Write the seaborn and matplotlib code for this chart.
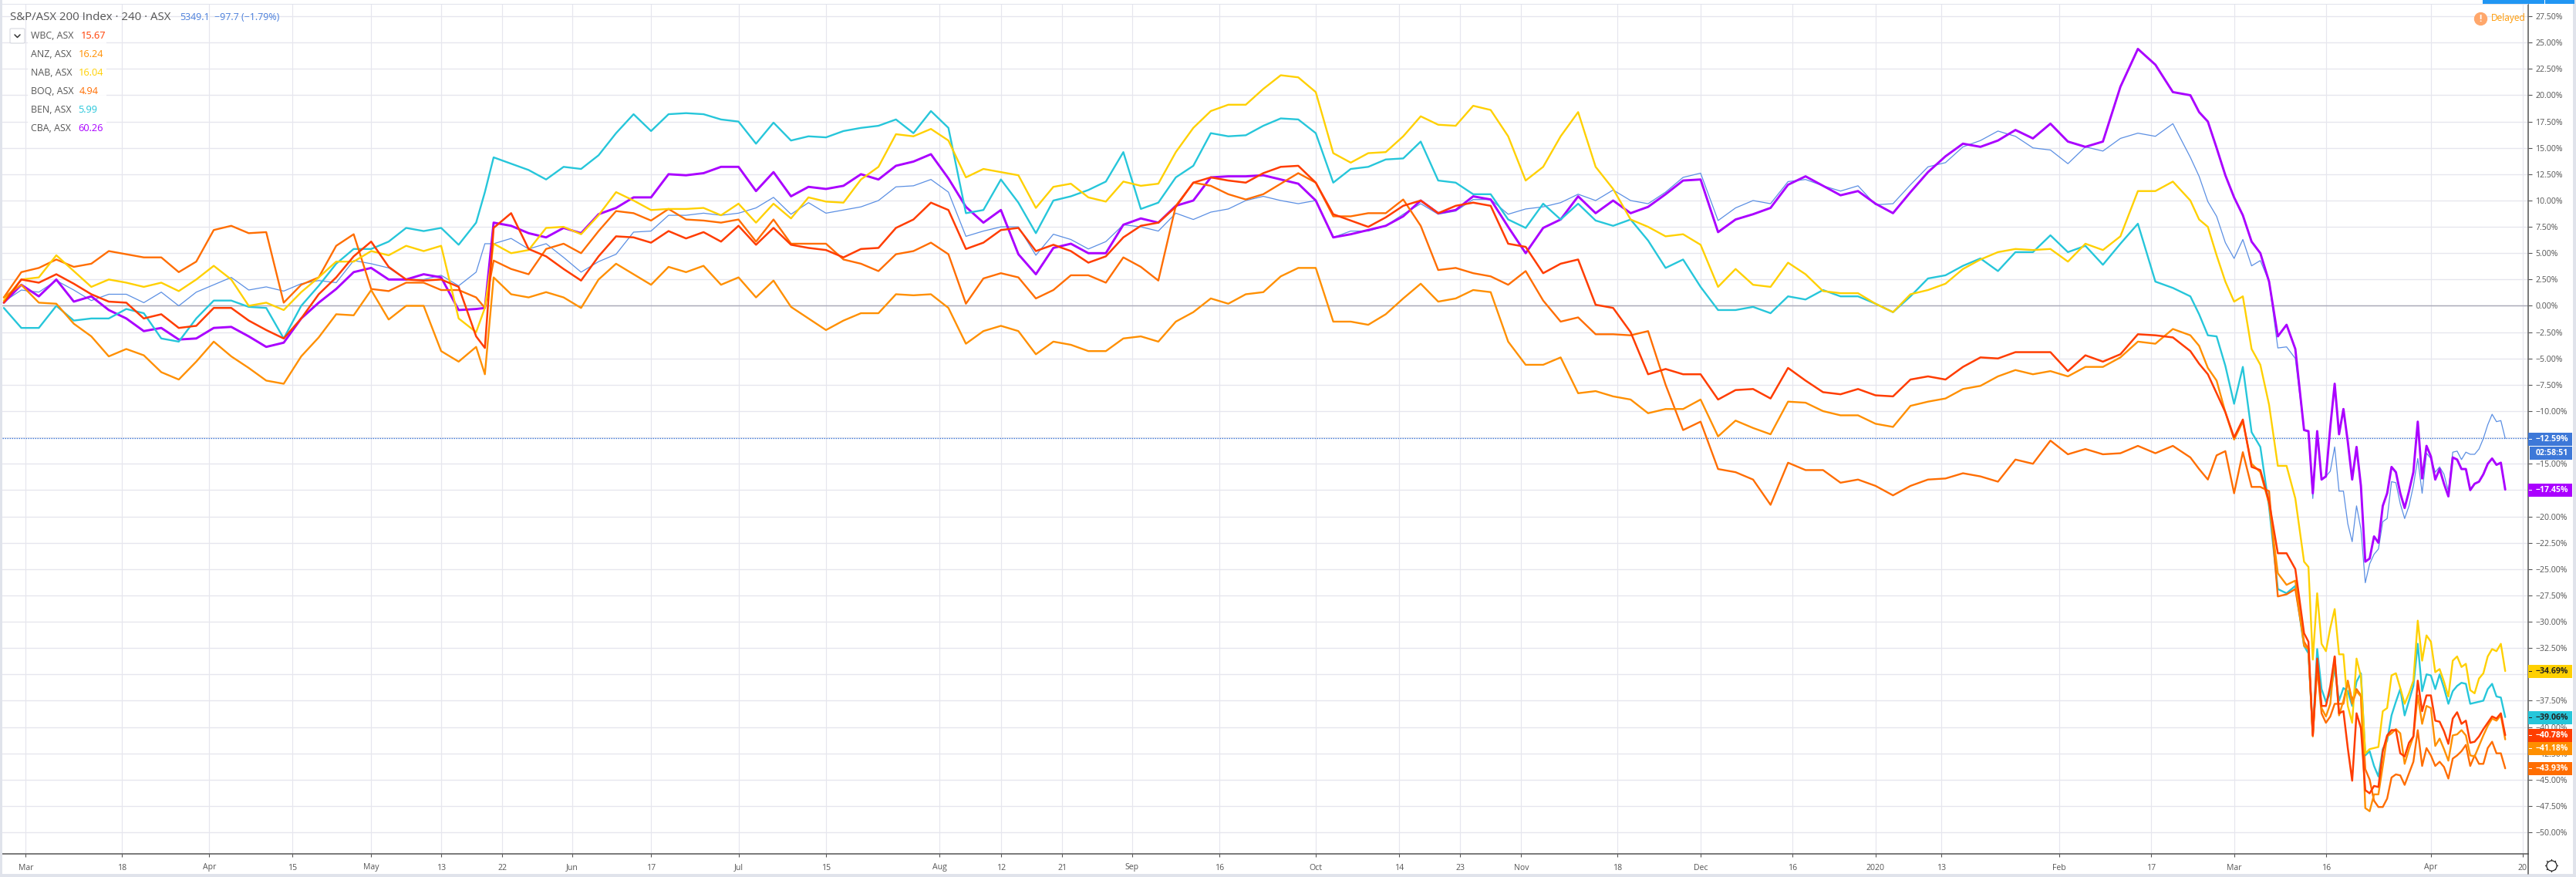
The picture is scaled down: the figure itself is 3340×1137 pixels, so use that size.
# -*- coding: utf-8 -*-
import numpy as np
import pandas as pd
import matplotlib.pyplot as plt
from matplotlib.patches import Rectangle, FancyBboxPatch
from matplotlib.lines import Line2D
import seaborn as sns

W, H = 3340, 1137

# --- DATA (percent change) ---
bars = list(range(0, 109, 4)) + [110] + list(range(112, 501, 4)) + list(range(502, 525, 2)) + list(range(526, 573))

wbc = [0.3,2.5,2.2,3.0,2.1,1.1,0.4,0.3,-1.2,-0.8,-2.1,-1.9,-0.2,-0.2,-1.4,-2.3,-3.1,-1.2,1.1,2.7,4.7,6.1,3.7,2.5,2.4,2.5,1.8,-2.9,-4.0,7.4,8.8,5.4,4.7,3.5,2.4,4.7,6.6,
       6.5,6,7.1,6.4,7,6.1,7.6,5.8,7.4,5.8,5.5,5.3,4.6,5.4,5.5,7.4,8.2,9.8,9.1,5.4,6,7.2,7.4,5.2,5.8,5.2,4.1,4.7,6.5,7.6,7.9,
       9.4,11.7,12.2,11.9,11.7,12.6,13.2,13.3,11.7,8.7,8.1,7.5,8.4,9.5,10,8.8,9.5,9.8,9.5,5.9,5.6,3.1,4,4.4,0.1,-0.2,-2.5,-6.5,-6,-6.5,-6.5,
       -8.9,-8,-7.9,-8.8,-5.9,-7.1,-8.2,-8.4,-7.9,-8.5,-8.6,-7,-6.7,-7,-5.8,-4.9,-5,-4.4,-4.4,-4.4,-6.2,-4.7,-5.3,-4.6,-2.7,-2.8,-3,-4.3,
       -5.5,-6.5,-8.3,-10.1,-12.5,-10.8,-15.3,-15.6,-18.6,-23.5,-23.5,-25,
       -31.1,-31.9,-40.8,-33.5,-38,-38,-36.1,-33.3,-38.7,-38.5,-42,-45.1,-38.7,-40.1,-46,-46.3,-45.6,-45.7,-42.3,-40.8,-40.3,-40.3,-42.5,-42.8,-41.5,-40.9,-35.6,-38.5,-37,-37,-39.4,-39.5,-40.4,-41.6,-39.2,-38.6,-39.7,-39.4,-41.5,-41.4,-40.9,-40.2,-39.6,-39,-39.2,-38.7,-40.78]

anz = [0.8,2.0,0.3,0.2,-1.7,-2.9,-4.8,-4.1,-4.7,-6.3,-7.0,-5.3,-3.4,-4.8,-5.9,-7.1,-7.4,-4.8,-3.0,-0.8,-0.9,1.5,-1.3,0,0,-4.3,-5.3,-3.9,-6.5,2.7,1.1,0.8,1.3,0.8,-0.2,2.5,4.0,
       3,2,3.7,3.2,3.8,2,2.7,0.8,2.4,-0.1,-1.2,-2.3,-1.4,-0.7,-0.7,1.1,1,1.1,-0.2,-3.6,-2.4,-1.9,-2.4,-4.6,-3.4,-3.7,-4.3,-4.3,-3.1,-2.9,-3.4,
       -1.5,-0.6,0.7,0.2,1.1,1.3,2.8,3.6,3.6,-1.5,-1.5,-1.8,-0.8,0.7,2.1,0.4,0.7,1.5,1.3,-3.4,-5.6,-5.6,-4.9,-8.3,-8.1,-8.6,-8.9,-10.2,-9.8,-9.8,-8.9,
       -12.4,-10.9,-11.6,-12.2,-9.1,-9.2,-10,-10.4,-10.4,-11.2,-11.5,-9.5,-9.1,-8.8,-7.9,-7.6,-6.7,-6.1,-6.5,-6.2,-6.7,-5.8,-5.8,-4.9,-3.4,-3.6,-2.2,-2.8,
       -3.8,-5.9,-7.1,-10.1,-12.7,-11,-15,-15.8,-18.8,-25.4,-26.5,-26.1,
       -32.3,-32.6,-40.9,-33.7,-38.2,-39,-37.8,-33.3,-38.9,-37.5,-35.7,-37.8,-36.6,-37.1,-47.7,-48,-46.4,-46.4,-43.7,-40.9,-40.6,-40.2,-40.6,-43.5,-42.1,-40.9,-37,-39.7,-38,-38.2,-41.8,-41.1,-42.1,-43.2,-40.8,-40.7,-40.3,-40.8,-42.7,-42.8,-41.8,-40.8,-39.9,-39.2,-39.4,-38.9,-41.18]

nab = [0.5,2.5,2.7,4.8,3.3,1.8,2.5,2.2,1.8,2.2,1.4,2.5,3.8,2.5,0,0.3,-0.4,1.3,2.7,4.2,4.2,5.2,4.8,5.7,5.2,5.7,-1.2,-2.5,-0.2,5.9,5.0,5.3,7.4,7.5,6.8,8.6,10.8,
       10,9.1,9.2,9.2,9.3,8.6,9.7,7.9,9.7,8.3,10.3,9.9,9.8,12,13.2,16.3,16.1,16.8,15.7,12.2,13,12.7,12.4,9.3,11.3,11.6,10.3,9.9,11.8,11.4,11.6,
       14.6,16.9,18.5,19.1,19.1,20.6,21.9,21.7,20.3,14.5,13.6,14.5,14.6,16.1,18,17.2,17.1,19,18.6,16.1,11.9,13.2,16.1,18.4,13.2,11.1,8.2,7.5,6.6,6.8,5.8,
       1.8,3.5,2,1.8,4.1,3,1.4,1.2,1.2,0.2,-0.6,1.1,1.5,2.1,3.5,4.4,5.1,5.4,5.3,5.4,4.2,5.9,5.3,6.6,10.9,10.9,11.8,10,
       8.2,7.5,4.8,2.3,0.4,0.9,-4.1,-5.6,-9.4,-15.2,-15.2,-18.3,
       -24.3,-24.8,-33.6,-27.3,-32.1,-32.8,-30.6,-28.8,-33.1,-33.1,-38,-39.6,-33.5,-35.2,-42.5,-42.1,-42,-41.9,-38.5,-38.2,-35.1,-34.9,-36.3,-37.8,-36.8,-35.6,-29.9,-33.7,-31.3,-31.9,-34.8,-34.5,-35.7,-37.1,-33.7,-33.3,-34.3,-34,-36.5,-36.8,-35.4,-34.9,-33.3,-32.6,-32.8,-32.1,-34.69]

boq = [0.8,3.2,3.6,4.4,3.7,4.0,5.2,4.9,4.6,4.6,3.2,4.2,7.2,7.6,6.9,7.0,0.3,2.0,2.7,5.7,6.8,1.6,1.4,2.2,2.2,1.5,1.5,0.8,-0.2,4.3,3.5,3.0,5.4,5.9,5.0,7.1,9.0,
       8.8,8.1,9.2,8.2,8.1,7.9,8.2,6.1,8.2,5.9,5.9,5.9,4.4,4,3.3,4.9,5.2,6,4.9,0.2,2.6,3.1,2.7,0.7,1.5,2.9,2.9,2.2,4.6,3.7,2.4,
       9.5,11.7,11.4,10.6,10.1,10.6,11.6,12.6,11.7,8.5,8.5,8.8,8.8,10.1,7.6,3.4,3.6,3.1,2.8,2,3.3,0.5,-1.5,-1.1,-2.7,-2.7,-2.8,-2.4,-7.5,-11.8,-11,
       -15.5,-15.8,-16.5,-18.9,-14.9,-15.6,-15.6,-16.8,-16.5,-17.1,-18,-17.1,-16.5,-16.4,-15.9,-16.2,-16.7,-14.6,-15,-12.8,-14.1,-13.6,-14.1,-14,-13.3,-14,-13.3,-14.4,
       -15.5,-16.5,-14.2,-13.8,-17.8,-13.9,-17.2,-17.2,-17.6,-27.6,-27.4,-26.9,
       -31.9,-32.6,-40.8,-34.4,-38.7,-39.6,-39,-37.8,-37.8,-37.8,-35.6,-37.5,-36.4,-37,-44,-45,-47,-47.6,-47.6,-46.8,-44.8,-44.5,-44.6,-45.5,-44.4,-43.3,-40.3,-43.7,-42,-42.7,-43.7,-43.3,-43.8,-44.9,-43,-42.7,-42.3,-41.7,-43.7,-42.7,-43.5,-43.5,-42,-41.4,-42.5,-42.5,-43.93]

ben = [-0.2,-2.1,-2.1,0,-1.4,-1.2,-1.2,-0.3,-0.7,-3.1,-3.4,-1.2,0.5,0.5,-0.1,-0.2,-3.1,0,1.9,4.0,5.4,5.4,6.1,7.4,7.1,7.4,5.8,7.9,10.8,14.1,13.5,12.9,12,13.2,13,14.3,16.4,
       18.2,16.6,18.2,18.3,18.2,17.7,17.5,15.4,17.4,15.7,16.1,16,16.6,16.9,17.1,17.7,16.4,18.5,16.9,8.8,9.1,12,9.8,6.9,10,10.4,11,11.8,14.6,9.2,9.8,
       12.2,13.3,16.4,16.1,16.2,17.1,17.8,17.7,16.4,11.7,13,13.2,13.9,14,15.6,11.9,11.7,10.6,10.6,8.2,7.4,9.7,8.2,9.7,8.1,7.6,8.2,6.2,3.6,4.4,1.8,
       -0.4,-0.4,-0.1,-0.7,0.9,0.6,1.5,0.9,0.9,0.2,-0.6,0.9,2.6,2.9,3.8,4.5,3.3,5.1,5.1,6.7,5.1,5.7,3.9,5.9,7.8,2.3,1.7,0.9,
       -0.8,-2.8,-2.9,-5.7,-9.3,-5.8,-12,-13.4,-19.1,-26.9,-27.3,-26.6,
       -32.3,-33,-40.6,-32.6,-36.4,-37.6,-36.8,-34.4,-37.5,-36.3,-36.6,-38,-35.7,-34.9,-42.7,-42.3,-43.7,-44.7,-42.1,-41.3,-38.9,-37.6,-36.4,-38.9,-37.5,-36.1,-32.1,-36.6,-35,-35.1,-36.4,-35,-36.3,-37.8,-36.6,-36.1,-35.8,-35.9,-37.8,-37.7,-37.6,-37.5,-36.4,-35.9,-37.1,-37.2,-39.06]

cba = [0.3,2.0,0.9,2.5,0.4,0.9,-0.4,-1.2,-2.4,-2.1,-3.2,-3.1,-2.1,-2.0,-2.9,-3.9,-3.5,-1.2,0.3,1.6,3.2,3.6,2.5,2.5,3.0,2.7,-0.4,-0.3,-0.2,7.9,7.6,6.9,6.5,7.4,6.9,8.7,9.3,
       10.3,10.3,12.5,12.4,12.6,13.2,13.2,10.9,12.7,10.4,11.3,11.1,11.4,12.5,12,13.3,13.7,14.4,12.1,9.4,7.9,9.1,4.9,3,5.5,5.9,5,5,7.7,8.3,7.9,
       9.5,10,12.2,12.3,12.3,12.4,12,11.6,10,6.5,6.8,7.2,7.6,8.5,10,8.8,9.1,10.4,10.1,7.5,5,7.4,8.2,10.4,8.8,10,8.8,9.4,10.6,11.9,12,
       7,8.2,8.7,9.3,11.5,12.3,11.4,10.5,10.9,9.7,8.8,10.8,12.7,14.2,15.4,15.1,15.7,16.7,15.9,17.3,15.6,15.1,15.6,20.8,24.4,22.9,20.3,20,
       18.4,17.5,15,12.4,10.3,8.6,6.1,5,2.3,-2.9,-1.8,-4.1,
       -11.8,-11.9,-17.8,-11.9,-16.5,-16.2,-11.5,-7.4,-12.2,-9.8,-12.9,-16.5,-13.4,-17.1,-24.3,-24,-21.9,-22.5,-19,-17.8,-15.3,-15.8,-17.8,-19.2,-17.6,-15.8,-11,-16.4,-13.3,-14.3,-16.5,-15.5,-16.9,-18.1,-14.4,-14.6,-15.5,-15.5,-17.5,-16.9,-16.7,-16,-15,-14.5,-15.1,-14.9,-17.45]

index_asx = [0.4,1.5,1.3,2.4,1.5,0.5,1.1,1.1,0.3,1.3,0,1.3,2,2.7,1.5,1.8,1.4,2.1,2.4,2.2,4.3,4,3.6,2.5,2.5,2.9,1.9,3.2,5.9,5.9,6.4,5.4,5.9,4.6,3.2,4.2,4.9,
             7,7.1,8.6,8.6,8.8,8.6,8.8,9.3,10.3,8.7,9.8,8.8,9.1,9.4,10,11.3,11.4,12,10.8,6.6,7.1,7.5,7.5,4.8,6.8,6.3,5.4,6.1,7.7,7.5,7.1,
             8.8,8.2,8.9,9.2,10,10.4,10,9.7,10,6.5,7.1,7.1,7.6,8.7,9.7,8.7,9,10.1,10.1,8.7,9.2,9.4,9.8,10.6,10,11,10,9.7,10.8,12.2,12.6,
             8.1,9.3,10,9.7,11.8,12,11.4,10.9,11.4,9.6,9.7,11.5,13.2,13.6,15.1,15.7,16.6,16.1,15,14.8,13.5,15.1,14.7,15.9,16.4,16.1,17.3,14.1,
             12.3,9.9,8.5,6,4.5,6.3,3.8,4.3,2.3,-4,-3.9,-5,
             -11.8,-12,-18.3,-11.9,-16.4,-16.2,-15.7,-13.4,-17.6,-17.6,-20.7,-22.4,-19,-21.2,-26.3,-24.5,-23.6,-23.1,-20.5,-20.2,-16.7,-16.8,-18.8,-20.2,-19,-17.1,-14.5,-17.8,-14,-14.5,-15.8,-15.3,-16,-17.6,-13.9,-13.8,-14.6,-13.9,-14.1,-14.1,-13.6,-12.6,-11.3,-10.3,-11,-10.9,-12.59]

series_names = ['S&P/ASX 200', 'CBA', 'BEN', 'BOQ', 'NAB', 'ANZ', 'WBC']
series_values = [index_asx, cba, ben, boq, nab, anz, wbc]
colors = {'S&P/ASX 200': '#5b8fe3', 'CBA': '#aa00ff', 'BEN': '#26c6da', 'BOQ': '#ff6d00',
          'NAB': '#ffd000', 'ANZ': '#ff8f00', 'WBC': '#ff3d00'}
widths = {'S&P/ASX 200': 0.9, 'CBA': 2.1, 'BEN': 1.7, 'BOQ': 1.7, 'NAB': 1.7, 'ANZ': 1.7, 'WBC': 1.8}

x_tick_pos = [5, 27, 47, 66, 84, 100, 114, 130, 148, 168, 188, 214, 228, 242, 258, 278, 300, 319, 333, 347, 369, 388, 409, 428, 443, 470, 491, 510, 531, 555, 576]
x_tick_labels = ['Mar', '18', 'Apr', '15', 'May', '13', '22', 'Jun', '17', 'Jul', '15', 'Aug', '12', '21', 'Sep', '16', 'Oct', '14', '23', 'Nov', '18', 'Dec', '16', '2020', '13', 'Feb', '17', 'Mar', '16', 'Apr', '20']
y_ticks = np.arange(-50, 27.6, 2.5)

legend_rows = ['WBC, ASX', 'ANZ, ASX', 'NAB, ASX', 'BOQ, ASX', 'BEN, ASX', 'CBA, ASX']
legend_vals = ['15.67', '16.24', '16.04', '4.94', '5.99', '60.26']
legend_cols = ['#ff3d00', '#ff8f00', '#ffd000', '#ff6d00', '#26c6da', '#aa00ff']

# end tags: text, centre of tag in pixels, fill, text colour
end_tags = [('\u221212.59%', 569.5, '#3d78d8', 'white'), ('02:58:51', 587.5, '#3d78d8', 'white'),
            ('\u221217.45%', 635.5, '#aa00ff', 'white'), ('\u221234.69%', 870.5, '#ffd000', '#222222'),
            ('\u221239.06%', 930.5, '#26c6da', '#222222'), ('\u221240.78%', 953.5, '#ff3d00', 'white'),
            ('\u221241.18%', 970.5, '#ff8f00', 'white'), ('\u221243.93%', 996.5, '#ff6d00', 'white')]

df = pd.DataFrame({
    'bar': np.tile(bars, len(series_names)),
    'pct': np.concatenate(series_values),
    'series': np.repeat(series_names, len(bars)),
})

# --- VISUALIZATION ---
sns.set_theme(style='white')
plt.rcParams['font.family'] = ['Open Sans', 'DejaVu Sans']
TXT = '#555555'
GRID = '#e6e6ee'
EDGE = '#e0e3eb'

fig = plt.figure(figsize=(W / 100, H / 100), dpi=100, facecolor='white')
ax = fig.add_axes([3 / W, 1 - 1107 / H, 3275 / W, 1102 / H])

for y in y_ticks:
    ax.axhline(y, color=GRID, lw=1.0, zorder=0)
for x in x_tick_pos:
    ax.axvline(x, color=GRID, lw=0.85, zorder=0)
ax.axhline(0, color='#a9a9b8', lw=1.0, zorder=1)

sns.lineplot(data=df, x='bar', y='pct', hue='series', hue_order=series_names, palette=colors,
             size='series', sizes=widths, size_order=series_names, estimator=None, legend=False,
             ax=ax, zorder=3)
ax.axhline(index_asx[-1], color='#3d78d8', lw=0.9, ls=(0, (1.2, 1.2)), zorder=2)

ax.set_xlim(-0.35, 577.25)
ax.set_ylim(-52.05, 28.68)
ax.set_xlabel('')
ax.set_ylabel('')
ax.set_xticks(x_tick_pos)
ax.set_xticklabels(x_tick_labels)
ax.yaxis.tick_right()
ax.set_yticks(y_ticks)
ax.set_yticklabels([f'{v:.2f}%'.replace('-', '\u2212') for v in y_ticks])
ax.tick_params(axis='x', length=3, width=0.8, color=TXT, labelcolor=TXT, labelsize=7.6, pad=6, bottom=True)
ax.tick_params(axis='y', length=3.5, width=0.8, color=TXT, labelcolor=TXT, labelsize=7.6, pad=3, right=True, left=False)
for side in ['top', 'left']:
    ax.spines[side].set_visible(False)
for side in ['right', 'bottom']:
    ax.spines[side].set_color(TXT)
    ax.spines[side].set_linewidth(1.1)


def px_text(x, y, s, **kw):
    kw.setdefault('va', 'center')
    kw.setdefault('color', TXT)
    kw.setdefault('fontsize', 8.2)
    return fig.text(x / W, 1 - y / H, s, **kw)


def px_rect(x0, y0, x1, y1, **kw):
    fig.add_artist(Rectangle((x0 / W, 1 - y1 / H), (x1 - x0) / W, (y1 - y0) / H,
                             transform=fig.transFigure, lw=0, **kw))


# frame strips round the chart
px_rect(0, 0, 3, H, color=EDGE)
px_rect(0, 1133, W, H, color=EDGE)
px_rect(3336, 0, W, H, color=EDGE)
px_rect(0, 4.5, 3278, 6, color=EDGE)
px_rect(3219, 0, 3338, 5, color='#2196f3')
px_rect(3299, 0, 3300, 5, color='white')
fig.add_artist(Line2D([3278 / W, 3278 / W], [1 - 1107 / H, 1 - 1133 / H], color=TXT, lw=1.1))

# legend block
px_rect(36, 35, 138, 178, color='white', alpha=0.85, zorder=2)
px_text(13, 22, 'S&P/ASX 200 Index \u00b7 240 \u00b7 ASX', fontsize=10.8)
px_text(233, 23, '5349.1', color='#4a7fdc', fontsize=8.9)
px_text(278, 23, '\u221297.7 (\u22121.79%)', color='#4a7fdc', fontsize=8.9)
legend_y = [46, 70, 94, 119, 143, 166]
legend_x = [105, 102, 102, 103, 101, 101]
for name, val, col, ly, lx in zip(legend_rows, legend_vals, legend_cols, legend_y, legend_x):
    px_text(40, ly, name, fontsize=8.9)
    px_text(lx, ly, val, color=col, fontsize=9.2)
fig.add_artist(FancyBboxPatch((13 / W, 1 - 56 / H), 19 / W, 19 / H, boxstyle='round,pad=0,rounding_size=0.0008',
                              transform=fig.transFigure, fc='white', ec='#d6d8e0', lw=0.8))
fig.add_artist(Line2D([19 / W, 22.5 / W, 26 / W], [1 - 45 / H, 1 - 48.5 / H, 1 - 45 / H],
                      color='#333333', lw=1.1))

# delayed badge
fig.add_artist(Line2D([3216 / W], [1 - 24 / H], marker='o', ms=11.5, color='#ffa76b', lw=0, zorder=5))
px_text(3216, 24, '!', color='white', ha='center', fontsize=8.5, fontweight='bold', zorder=6)
px_text(3230, 24, 'Delayed', color='#ff9800', fontsize=8.6)

# end tags over the price scale
for label, yc, fill, tcol in end_tags:
    is_time = label == '02:58:51'
    px_rect(3280 if is_time else 3278, yc - 8.5, 3335, yc + 8.5, color=fill, zorder=4)
    px_text(3309, yc, label, color=tcol, ha='center', fontsize=7.6, fontweight='bold', zorder=5)
    if not is_time:
        px_rect(3279, yc - 0.5, 3283, yc + 0.5, color=tcol, zorder=5)

# settings gear
for dx, dy in [(0, -8), (0, 8), (-8, 0), (8, 0), (-5.6, -5.6), (5.6, 5.6), (-5.6, 5.6), (5.6, -5.6)]:
    fig.add_artist(Line2D([(3308 + dx * 0.8) / W, (3308 + dx) / W],
                          [1 - (1122 + dy * 0.8) / H, 1 - (1122 + dy) / H], color='#222222', lw=0.9))
fig.add_artist(Line2D([3308 / W], [1 - 1122 / H], marker='o', ms=9.5, mfc='white', mec='#222222', mew=0.9, lw=0))

fig.savefig('out.png', dpi=100)
